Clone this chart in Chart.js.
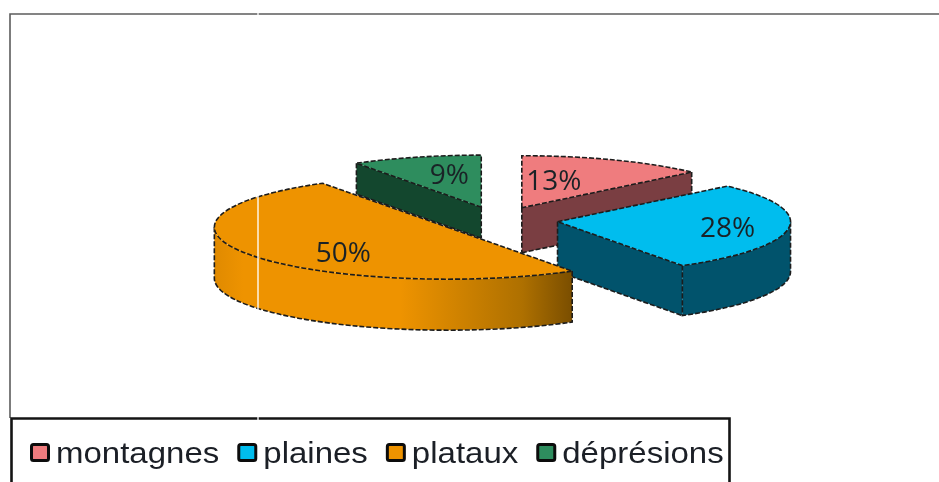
<!DOCTYPE html>
<html>
<head>
<meta charset="utf-8">
<style>
    html, body { margin: 0; padding: 0; background: #fff; }
    canvas { display: block; }
</style>
<script src="https://cdn.jsdelivr.net/npm/chart.js@4/dist/chart.umd.min.js"></script>
</head>
<body>
<canvas id="reliefChart" width="939" height="482"></canvas>
<script>
var categories = ['montagnes', 'plaines', 'plataux', 'déprésions'];
var shares = [13, 28, 50, 9];

var topColors = ['#EF7C7E', '#00BDEE', '#EE9300', '#2E8D5E'];
var wallColors = ['#7A3E42', '#01536C', '#EE9300', '#13472E'];

// pie placement on the page, the pie is flattened by tilt to look 3D
var pieX = 498, pieY = 220, pieRadius = 233, tilt = 0.2232, explode = 60;
var wallDepth = [45, 50, 51, 31];
var labelOffsets = [[32, -26], [170, 7], [-104, 27], [-32, -31]];

var OUTLINE = '#1c1c1c';

function screenPoint(chart, arc, angle, radius, depth) {
    var area = chart.chartArea;
    var cx = (area.left + area.right) / 2;
    var cy = (area.top + area.bottom) / 2;
    return {
        x: pieX + (arc.x - cx) + radius * Math.cos(angle),
        y: pieY + tilt * (arc.y - cy) + tilt * radius * Math.sin(angle) + (depth || 0)
    };
}

function traceRim(ctx, apex, radius, from, to, depth, reverse) {
    ctx.ellipse(apex.x, apex.y + depth, radius, radius * tilt, 0, from, to, reverse);
}

// side of the slice that faces the viewer
function edgeVisible(angle, mid) {
    return Math.cos(angle) * Math.sin(mid - angle) < -0.001;
}

function lowerSpan(start, end) {
    // part of the rim in the front half of the ellipse
    var TAU = Math.PI * 2;
    for (var k = -1; k <= 1; k++) {
        var a = Math.max(start, k * TAU);
        var b = Math.min(end, k * TAU + Math.PI);
        if (b > a) return [a, b];
    }
    return null;
}

function wallFill(ctx, index, apex, radius) {
    if (index !== 2) return wallColors[index];
    var grad = ctx.createLinearGradient(apex.x - radius, 0, apex.x + 125, 0);
    grad.addColorStop(0, '#E08A00');
    grad.addColorStop(0.08, '#EE9300');
    grad.addColorStop(0.52, '#EE9300');
    grad.addColorStop(0.86, '#AE7000');
    grad.addColorStop(1, '#7A4E00');
    return grad;
}

function fillQuad(ctx, apex, rim, d) {
    ctx.beginPath();
    ctx.moveTo(apex.x, apex.y);
    ctx.lineTo(rim.x, rim.y);
    ctx.lineTo(rim.x, rim.y + d);
    ctx.lineTo(apex.x, apex.y + d);
    ctx.closePath();
    ctx.fill();
}

function drawWall(chart, arc, index) {
    var ctx = chart.ctx;
    var r = arc.outerRadius;
    var d = wallDepth[index];
    var apex = screenPoint(chart, arc, 0, 0);
    var start = arc.startAngle, end = arc.endAngle, mid = (start + end) / 2;
    var a = screenPoint(chart, arc, start, r);
    var b = screenPoint(chart, arc, end, r);
    var span = lowerSpan(start, end);

    ctx.fillStyle = wallFill(ctx, index, apex, r);
    if (edgeVisible(start, mid)) fillQuad(ctx, apex, a, d);
    if (edgeVisible(end, mid)) fillQuad(ctx, apex, b, d);
    if (span) {
        ctx.beginPath();
        traceRim(ctx, apex, r, span[0], span[1], 0, false);
        traceRim(ctx, apex, r, span[1], span[0], d, true);
        ctx.closePath();
        ctx.fill();
    }

    // dashed edges of the wall
    ctx.strokeStyle = OUTLINE;
    ctx.lineWidth = 1.6;
    ctx.setLineDash([5, 2]);
    ctx.beginPath();
    [[start, a], [end, b]].forEach(function (edge) {
        if (edgeVisible(edge[0], mid)) {
            ctx.moveTo(apex.x, apex.y + d);
            ctx.lineTo(edge[1].x, edge[1].y + d);
            ctx.moveTo(apex.x, apex.y);
            ctx.lineTo(apex.x, apex.y + d);
            ctx.moveTo(edge[1].x, edge[1].y);
            ctx.lineTo(edge[1].x, edge[1].y + d);
        }
    });
    if (span) {
        var p = screenPoint(chart, arc, span[0], r);
        var q = screenPoint(chart, arc, span[1], r);
        ctx.moveTo(p.x, p.y);
        ctx.lineTo(p.x, p.y + d);
        traceRim(ctx, apex, r, span[0], span[1], d, false);
        ctx.lineTo(q.x, q.y);
    }
    ctx.stroke();
    ctx.setLineDash([]);
}

function drawTopOutline(chart, arc) {
    var ctx = chart.ctx;
    var apex = screenPoint(chart, arc, 0, 0);
    var a = screenPoint(chart, arc, arc.startAngle, arc.outerRadius);
    ctx.strokeStyle = OUTLINE;
    ctx.lineWidth = 1.6;
    ctx.setLineDash([5, 2]);
    ctx.beginPath();
    ctx.moveTo(apex.x, apex.y);
    ctx.lineTo(a.x, a.y);
    traceRim(ctx, apex, arc.outerRadius, arc.startAngle, arc.endAngle, 0, false);
    ctx.closePath();
    ctx.stroke();
    ctx.setLineDash([]);
}

function drawLegend(chart) {
    var ctx = chart.ctx;
    var stretch = 1.1;
    var x = 30;
    var baseline = 463;

    ctx.save();
    ctx.font = '30px "Liberation Sans"';
    ctx.textBaseline = 'alphabetic';
    ctx.textAlign = 'left';
    categories.forEach(function (name, i) {
        ctx.fillStyle = topColors[i];
        ctx.strokeStyle = '#0c0c0c';
        ctx.lineWidth = 3;
        ctx.beginPath();
        ctx.roundRect(x + 1.5, 444.5, 17, 16, 2);
        ctx.fill();
        ctx.stroke();
        x += 26;

        ctx.save();
        ctx.translate(x, baseline);
        ctx.scale(stretch, 1);
        ctx.fillStyle = '#1b1f26';
        ctx.fillText(name, 0, 0);
        ctx.restore();
        x += ctx.measureText(name).width * stretch + 18;
    });
    ctx.restore();
}

function drawFrame(chart) {
    var ctx = chart.ctx;
    ctx.save();
    ctx.strokeStyle = '#5c5c5c';
    ctx.lineWidth = 1.6;
    ctx.beginPath();
    ctx.moveTo(939, 14);
    ctx.lineTo(10, 14);
    ctx.lineTo(10, 418);
    ctx.stroke();

    ctx.strokeStyle = '#141414';
    ctx.lineWidth = 2.6;
    ctx.beginPath();
    ctx.moveTo(11.5, 482);
    ctx.lineTo(11.5, 418.5);
    ctx.lineTo(729.5, 418.5);
    ctx.lineTo(729.5, 482);
    ctx.stroke();

    // thin light seam crossing the plot
    ctx.strokeStyle = 'rgba(255,255,255,0.9)';
    ctx.lineWidth = 1.5;
    ctx.beginPath();
    ctx.moveTo(258, 10);
    ctx.lineTo(258, 421);
    ctx.stroke();
    ctx.restore();
}

var tiltedPie = {
    id: 'tiltedPie',
    afterDatasetsUpdate: function (chart) {
        // pull the slices apart along their middle angle
        chart.getDatasetMeta(0).data.forEach(function (arc) {
            var mid = (arc.startAngle + arc.endAngle) / 2;
            arc.x += explode * Math.cos(mid);
            arc.y += explode * Math.sin(mid);
        });
    },
    beforeDatasetsDraw: function (chart) {
        var ctx = chart.ctx;
        var area = chart.chartArea;
        var arcs = chart.getDatasetMeta(0).data;
        // back slices first, the big front one last
        [0, 3, 1, 2].forEach(function (i) { drawWall(chart, arcs[i], i); });
        ctx.save();
        ctx.translate(pieX, pieY);
        ctx.scale(1, tilt);
        ctx.translate(-(area.left + area.right) / 2, -(area.top + area.bottom) / 2);
    },
    afterDatasetsDraw: function (chart) {
        var ctx = chart.ctx;
        ctx.restore();
        var arcs = chart.getDatasetMeta(0).data;
        arcs.forEach(function (arc) { drawTopOutline(chart, arc); });

        ctx.save();
        ctx.font = '28px "Open Sans"';
        ctx.textAlign = 'center';
        ctx.textBaseline = 'middle';
        ctx.fillStyle = '#1a2226';
        arcs.forEach(function (arc, i) {
            var apex = screenPoint(chart, arc, 0, 0);
            ctx.fillText(shares[i] + '%', apex.x + labelOffsets[i][0], apex.y + labelOffsets[i][1]);
        });
        ctx.restore();
    },
    afterDraw: function (chart) {
        drawFrame(chart);
        drawLegend(chart);
    }
};

var $chart = new Chart(document.getElementById('reliefChart'), {
    type: 'pie',
    data: {
        labels: categories,
        datasets: [{
            data: shares,
            backgroundColor: topColors,
            borderWidth: 0,
            radius: pieRadius,
            clip: false
        }]
    },
    options: {
        responsive: false,
        animation: false,
        plugins: {
            legend: { display: false },
            tooltip: { enabled: false }
        }
    },
    plugins: [tiltedPie]
});
</script>
</body>
</html>
